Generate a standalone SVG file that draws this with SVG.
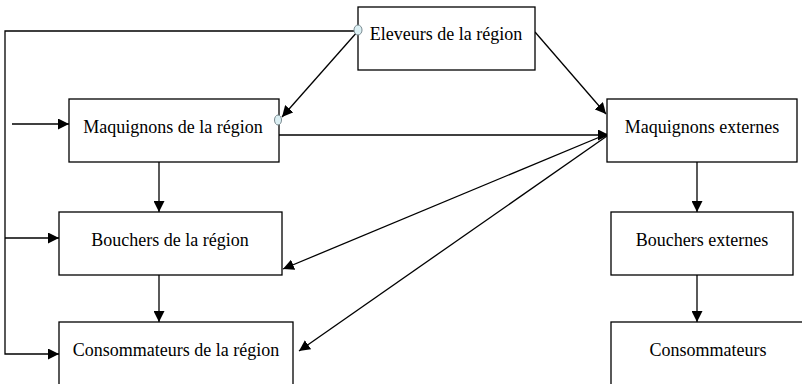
<svg xmlns="http://www.w3.org/2000/svg" width="802" height="384" viewBox="0 0 802 384">
<defs>
<style>
.box{fill:#fff;stroke:#000;stroke-width:1.3}
.lbl{font-family:"Liberation Serif","DejaVu Serif",serif;font-size:18px;fill:#000;text-anchor:middle}
.ln{fill:none;stroke:#000;stroke-width:1.3}
.dot{fill:#dcf0f4;stroke:#7a8a90;stroke-width:1}
</style>
<marker id="ah" viewBox="0 0 10 10" refX="10" refY="5" markerWidth="11" markerHeight="11" markerUnits="userSpaceOnUse" orient="auto">
<path d="M0,0 L10,5 L0,10 z" fill="#000"/>
</marker>
</defs>
<rect width="802" height="384" fill="#fff"/>
<g id="connectors">
<path class="ln" d="M358,31 H5 V354 H59" marker-end="url(#ah)"/>
<path class="ln" d="M5,238 H59" marker-end="url(#ah)"/>
<path class="ln" d="M12,124 H69" marker-end="url(#ah)"/>
<path class="ln" d="M358,31 L282,117" marker-end="url(#ah)"/>
<path class="ln" d="M535,32 L606,114" marker-end="url(#ah)"/>
<path class="ln" d="M279,135 H609" marker-end="url(#ah)"/>
<path class="ln" d="M607,134 L283,269" marker-end="url(#ah)"/>
<path class="ln" d="M607,136 L299,351" marker-end="url(#ah)"/>
<path class="ln" d="M159,162 V212" marker-end="url(#ah)"/>
<path class="ln" d="M159,275 V322" marker-end="url(#ah)"/>
<path class="ln" d="M697,162 V212" marker-end="url(#ah)"/>
<path class="ln" d="M697,275 V322" marker-end="url(#ah)"/>
</g>
<g id="eleveurs">
<rect class="box" x="358" y="7" width="177" height="63"/>
<text class="lbl" x="446" y="40">Eleveurs de la région</text>
</g>
<g id="maquignons-region">
<rect class="box" x="69" y="99" width="210" height="63"/>
<text class="lbl" x="173" y="133">Maquignons de la région</text>
</g>
<g id="maquignons-externes">
<rect class="box" x="607" y="99" width="190" height="63"/>
<text class="lbl" x="702" y="133">Maquignons externes</text>
</g>
<g id="bouchers-region">
<rect class="box" x="59" y="212" width="223" height="63"/>
<text class="lbl" x="170" y="246">Bouchers de la région</text>
</g>
<g id="bouchers-externes">
<rect class="box" x="611" y="212" width="182" height="63"/>
<text class="lbl" x="702" y="246">Bouchers externes</text>
</g>
<g id="consommateurs-region">
<rect class="box" x="59" y="322" width="234" height="70"/>
<text class="lbl" x="176" y="356">Consommateurs de la région</text>
</g>
<g id="consommateurs">
<rect class="box" x="611" y="322" width="200" height="70"/>
<text class="lbl" x="708" y="356">Consommateurs</text>
</g>
<g id="anchors">
<ellipse class="dot" cx="358" cy="30" rx="4" ry="5"/>
<ellipse class="dot" cx="278" cy="120" rx="3.5" ry="5"/>
</g>
</svg>
